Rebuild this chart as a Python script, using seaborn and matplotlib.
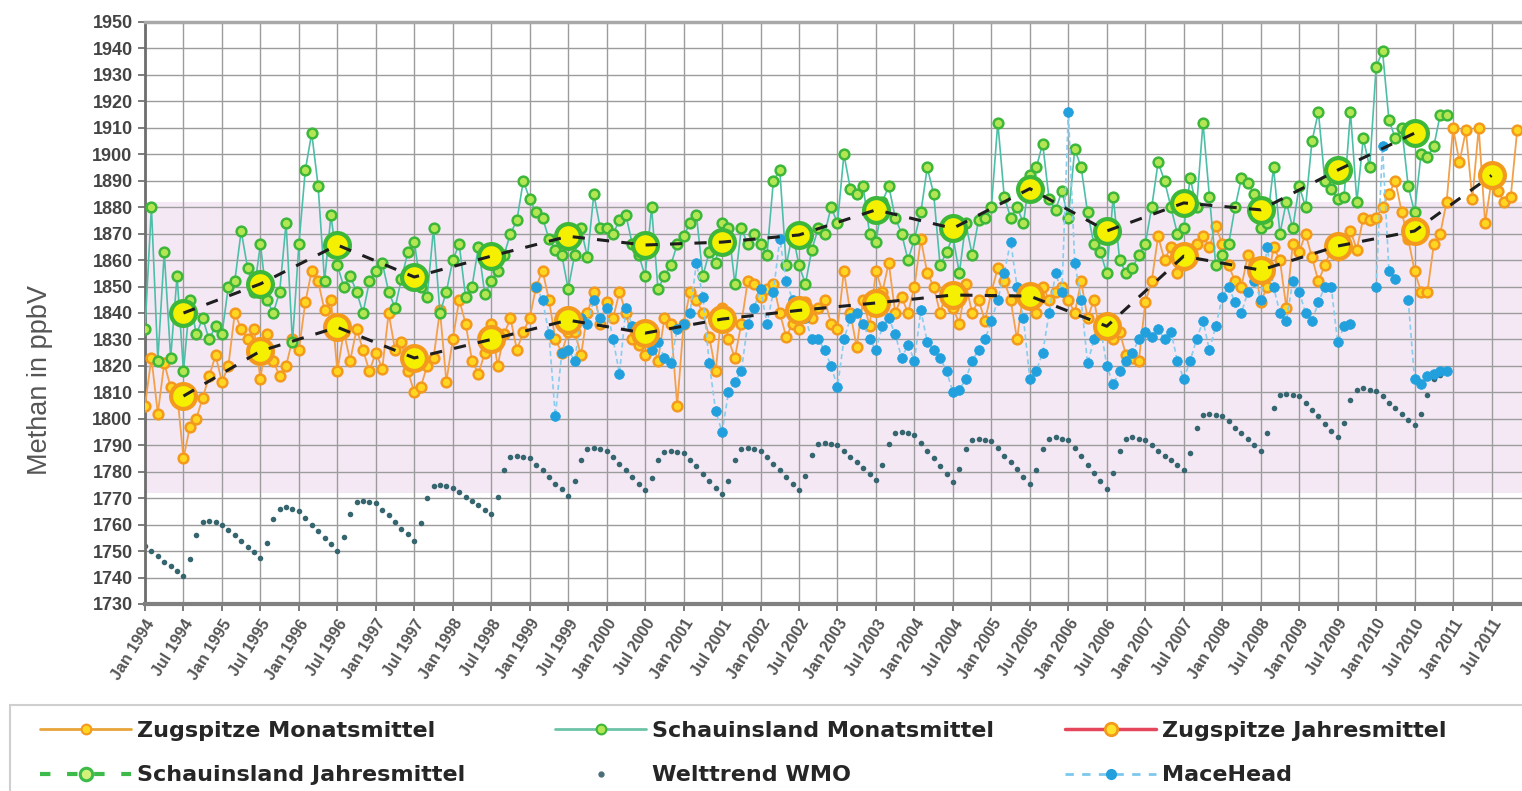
import numpy as np
import pandas as pd
import matplotlib
matplotlib.use("Agg")
import matplotlib.pyplot as plt
from matplotlib.lines import Line2D
from matplotlib.patches import Rectangle
import seaborn as sns

# ---------------------------------------------------------------- data
first_year = 1994
tick_years = list(range(1994, 2012))
tick_months = ["Jan", "Jul"]
tick_labels = [f"{mon} {yr}" for yr in tick_years for mon in tick_months]

# Zugspitze, monthly means (ppbV), Jan 1994 .. Nov 2011
zugspitze_monthly = [
    1805, 1823, 1802, 1821, 1812, 1810, 1785, 1797, 1800, 1808, 1816, 1824,  # 1994
    1814, 1820, 1840, 1834, 1830, 1834, 1815, 1832, 1822, 1816, 1820, 1830,  # 1995
    1826, 1844, 1856, 1852, 1841, 1845, 1818, 1833, 1822, 1834, 1826, 1818,  # 1996
    1825, 1819, 1840, 1826, 1829, 1818, 1810, 1812, 1820, 1823, 1841, 1814,  # 1997
    1830, 1845, 1836, 1822, 1817, 1825, 1836, 1820, 1832, 1838, 1826, 1833,  # 1998
    1838, 1850, 1856, 1845, 1830, 1825, 1833, 1833, 1824, 1840, 1848, 1836,  # 1999
    1844, 1838, 1848, 1840, 1830, 1828, 1824, 1830, 1822, 1838, 1836, 1805,  # 2000
    1836, 1848, 1845, 1840, 1831, 1818, 1842, 1830, 1823, 1836, 1852, 1851,  # 2001
    1846, 1849, 1851, 1840, 1831, 1836, 1834, 1844, 1838, 1842, 1845, 1836,  # 2002
    1834, 1856, 1840, 1827, 1845, 1835, 1856, 1848, 1859, 1840, 1846, 1840,  # 2003
    1850, 1868, 1855, 1850, 1840, 1848, 1842, 1836, 1851, 1840, 1845, 1837,  # 2004
    1848, 1857, 1852, 1845, 1830, 1848, 1844, 1840, 1850, 1845, 1848, 1850,  # 2005
    1845, 1840, 1852, 1838, 1845, 1832, 1836, 1830, 1833, 1824, 1823, 1822,  # 2006
    1844, 1852, 1869, 1860, 1865, 1855, 1858, 1862, 1866, 1869, 1865, 1873,  # 2007
    1866, 1858, 1852, 1850, 1862, 1859, 1844, 1850, 1865, 1860, 1842, 1866,  # 2008
    1863, 1870, 1861, 1852, 1858, 1864, 1862, 1868, 1871, 1864, 1876, 1875,  # 2009
    1876, 1880, 1885, 1890, 1878, 1868, 1856, 1848, 1848, 1866, 1870, 1882,  # 2010
    1910, 1897, 1909, 1883, 1910, 1874, 1890, 1886, 1882, 1884, 1909,        # 2011
]

# Schauinsland, monthly means (ppbV), Jan 1994 .. Dec 2010
schauinsland_monthly = [
    1834, 1880, 1822, 1863, 1823, 1854, 1818, 1845, 1832, 1838, 1830, 1835,  # 1994
    1832, 1850, 1852, 1871, 1857, 1848, 1866, 1845, 1840, 1848, 1874, 1829,  # 1995
    1866, 1894, 1908, 1888, 1852, 1877, 1858, 1850, 1854, 1848, 1840, 1852,  # 1996
    1856, 1859, 1848, 1842, 1853, 1863, 1867, 1850, 1846, 1872, 1840, 1848,  # 1997
    1860, 1866, 1846, 1850, 1865, 1847, 1852, 1856, 1862, 1870, 1875, 1890,  # 1998
    1883, 1878, 1876, 1868, 1864, 1862, 1849, 1862, 1872, 1861, 1885, 1872,  # 1999
    1872, 1870, 1875, 1877, 1866, 1862, 1854, 1880, 1849, 1854, 1858, 1866,  # 2000
    1869, 1874, 1877, 1854, 1863, 1859, 1874, 1872, 1851, 1872, 1866, 1870,  # 2001
    1866, 1862, 1890, 1894, 1858, 1870, 1858, 1851, 1864, 1872, 1870, 1880,  # 2002
    1874, 1900, 1887, 1885, 1888, 1870, 1867, 1882, 1888, 1876, 1870, 1860,  # 2003
    1868, 1878, 1895, 1885, 1858, 1863, 1869, 1855, 1874, 1862, 1875, 1876,  # 2004
    1880, 1912, 1884, 1876, 1880, 1874, 1892, 1895, 1904, 1883, 1879, 1886,  # 2005
    1876, 1902, 1895, 1878, 1866, 1863, 1855, 1884, 1860, 1855, 1857, 1862,  # 2006
    1866, 1880, 1897, 1890, 1880, 1870, 1872, 1891, 1880, 1912, 1884, 1858,  # 2007
    1862, 1866, 1880, 1891, 1889, 1885, 1872, 1874, 1895, 1870, 1882, 1872,  # 2008
    1888, 1880, 1905, 1916, 1890, 1887, 1883, 1884, 1916, 1882, 1906, 1895,  # 2009
    1933, 1939, 1913, 1906, 1910, 1888, 1878, 1900, 1899, 1903, 1915, 1915,  # 2010
]

# WMO global trend (ppbV), Jan 1994 .. Dec 2010
wmo_trend = [
    1752, 1750, 1748, 1746, 1744.5, 1742.5, 1740.5, 1747, 1756, 1761, 1761.5, 1761,              # 1994
    1760, 1758, 1756, 1754, 1751.5, 1749.5, 1747.5, 1753, 1762, 1766, 1766.5, 1766,              # 1995
    1765, 1762.5, 1760, 1757.5, 1755, 1752.5, 1750, 1755.5, 1764, 1768.5, 1769, 1768.5,          # 1996
    1768, 1765.5, 1763.5, 1761, 1758.5, 1756.5, 1754, 1760.5, 1770, 1774.5, 1775, 1774.5,        # 1997
    1774, 1772.5, 1770.5, 1769, 1767.5, 1765.5, 1764, 1770.5, 1780.5, 1785.5, 1786, 1785.5,      # 1998
    1785, 1782.5, 1780.5, 1778, 1775.5, 1773.5, 1771, 1776.5, 1784.5, 1788.5, 1789, 1788.5,      # 1999
    1788, 1785.5, 1783, 1780.5, 1778, 1775.5, 1773, 1777.5, 1784.5, 1787.5, 1788, 1787.5,        # 2000
    1787, 1784.5, 1782, 1779, 1776.5, 1774, 1771.5, 1776.5, 1784.5, 1788.5, 1789, 1788.5,        # 2001
    1788, 1785.5, 1783, 1780.5, 1778, 1775.5, 1773, 1778.5, 1786.5, 1790.5, 1791, 1790.5,        # 2002
    1790, 1788, 1785.5, 1783.5, 1781.5, 1779, 1777, 1782.5, 1790.5, 1794.5, 1795, 1794.5,        # 2003
    1794, 1791, 1788, 1785, 1782, 1779, 1776, 1781, 1788.5, 1792, 1792.5, 1792,                  # 2004
    1791.5, 1789, 1786, 1783.5, 1781, 1778, 1775.5, 1780.5, 1788.5, 1792.5, 1793, 1792.5,        # 2005
    1792, 1789, 1786, 1782.5, 1779.5, 1776.5, 1773.5, 1779.5, 1788, 1792.5, 1793, 1792.5,        # 2006
    1792, 1790, 1788, 1786, 1784.5, 1782.5, 1780.5, 1787, 1796.5, 1801.5, 1802, 1801.5,          # 2007
    1801, 1799, 1796.5, 1794.5, 1792.5, 1790, 1788, 1794.5, 1804, 1809, 1809.5, 1809,            # 2008
    1808.5, 1806, 1803.5, 1801, 1798, 1795.5, 1793, 1798.5, 1807, 1811, 1811.5, 1811,            # 2009
    1810.5, 1808.5, 1806, 1804, 1802, 1799.5, 1797.5, 1802, 1809, 1815, 1816.5, 1818,            # 2010
]

# Mace Head (ppbV), Jan 1999 .. Dec 2010, gaps as NaN
mace_head_start = 1999
nan = np.nan
mace_head = [
    nan, 1850, 1845, 1832, 1801, 1825, 1826, 1822, 1838, 1836, 1845, 1838,  # 1999
    1842, 1830, 1817, 1842, 1835, nan, 1830, 1826, 1829, 1823, 1821, 1834,  # 2000
    1836, 1840, 1859, 1846, 1821, 1803, 1795, 1810, 1814, 1818, 1836, 1842,  # 2001
    1849, 1836, 1848, 1868, 1852, 1845, nan, 1838, 1830, 1830, 1826, 1820,  # 2002
    1812, 1830, 1838, 1840, 1836, 1830, 1826, 1835, 1838, 1832, 1823, 1828,  # 2003
    1822, 1841, 1829, 1826, 1823, 1818, 1810, 1811, 1815, 1822, 1826, 1830,  # 2004
    1837, 1845, 1855, 1867, 1850, 1838, 1815, 1818, 1825, 1840, 1855, 1848,  # 2005
    1916, 1859, 1845, 1821, 1830, 1835, 1820, 1813, 1818, 1822, 1825, 1830,  # 2006
    1833, 1831, 1834, 1830, 1833, 1822, 1815, 1822, 1830, 1837, 1826, 1835,  # 2007
    1846, 1850, 1844, 1840, 1848, 1852, 1845, 1865, 1850, 1840, 1837, 1852,  # 2008
    1848, 1840, 1837, 1844, 1850, 1850, 1829, 1835, 1836, nan, nan, nan,     # 2009
    1850, 1903, 1856, 1853, nan, 1845, 1815, 1813, 1816, 1817, 1818, 1818,  # 2010
]

# annual means, plotted at mid-year
zugspitze_years = list(range(1994, 2012))
zugspitze_annual = [1808.6, 1825.6, 1834.6, 1823.0, 1830.0, 1837.3, 1832.4, 1837.7, 1841.0,
                    1843.8, 1846.8, 1846.4, 1835.0, 1861.5, 1856.2, 1865.3, 1871.0, 1892.0]
schauinsland_years = list(range(1994, 2011))
schauinsland_annual = [1840.0, 1851.0, 1865.7, 1853.6, 1861.5, 1869.0, 1865.7, 1866.8, 1869.5,
                       1879.0, 1872.0, 1887.0, 1871.0, 1881.6, 1879.0, 1894.0, 1908.0]


def monthly_frame(values, start_year=first_year):
    offset = (start_year - first_year) * 12
    df = pd.DataFrame({"monat": np.arange(len(values)) + offset, "ppbV": values})
    df["segment"] = df["ppbV"].isna().cumsum()
    return df.dropna()


def annual_frame(years, values):
    return pd.DataFrame({"monat": [(y - first_year) * 12 + 6 for y in years], "ppbV": values})


df_zug = monthly_frame(zugspitze_monthly)
df_schau = monthly_frame(schauinsland_monthly)
df_wmo = monthly_frame(wmo_trend)
df_mace = monthly_frame(mace_head, mace_head_start)
df_zug_y = annual_frame(zugspitze_years, zugspitze_annual)
df_schau_y = annual_frame(schauinsland_years, schauinsland_annual)

# ---------------------------------------------------------------- style
sns.set_theme(style="white")
plt.rcParams["font.family"] = ["Liberation Sans", "DejaVu Sans"]

C_ZUG_LINE, C_ZUG_FACE, C_ZUG_EDGE = "#F2A04A", "#FFD620", "#F39A1E"
C_SCH_LINE, C_SCH_FACE, C_SCH_EDGE = "#4DBFA8", "#B4E553", "#3DB73A"
C_WMO = "#35656F"
C_MACE_LINE, C_MACE = "#86CDEE", "#22A0DD"
C_ANNUAL_LINE = "#1E1E1E"
C_GRID = "#9C9C9C"

W, H = 1522, 791
fig = plt.figure(figsize=(W / 100, H / 100), dpi=100)
fig.patch.set_facecolor("white")
ax = fig.add_axes([145 / W, (H - 604) / H, (1530 - 145) / W, (604 - 22) / H])
ax.set_facecolor("white")

# tinted band behind the data
ax.axhspan(1772, 1882, color="#F4E8F5", lw=0, zorder=0.1)

# ---------------------------------------------------------------- marks
sns.scatterplot(data=df_wmo, x="monat", y="ppbV", ax=ax, color=C_WMO, s=16,
                linewidth=0, zorder=2, legend=False)

sns.lineplot(data=df_zug, x="monat", y="ppbV", ax=ax, units="segment", estimator=None,
             color=C_ZUG_LINE, lw=1.3, marker="o", markersize=7,
             markerfacecolor=C_ZUG_FACE, markeredgecolor=C_ZUG_EDGE, markeredgewidth=1.8,
             zorder=3, legend=False)

sns.lineplot(data=df_schau, x="monat", y="ppbV", ax=ax, units="segment", estimator=None,
             color=C_SCH_LINE, lw=1.2, marker="o", markersize=7,
             markerfacecolor=C_SCH_FACE, markeredgecolor=C_SCH_EDGE, markeredgewidth=1.8,
             zorder=4, legend=False)

sns.lineplot(data=df_mace, x="monat", y="ppbV", ax=ax, units="segment", estimator=None,
             color=C_MACE_LINE, lw=1.2, linestyle=(0, (3, 2)), marker="o", markersize=7,
             markerfacecolor=C_MACE, markeredgecolor=C_MACE, markeredgewidth=0.5,
             zorder=5, legend=False)

for df_y, edge in ((df_zug_y, C_ZUG_EDGE), (df_schau_y, C_SCH_EDGE)):
    sns.scatterplot(data=df_y, x="monat", y="ppbV", ax=ax, s=320, color="#F4F000",
                    edgecolor=edge, linewidth=3, zorder=6, legend=False)
    sns.lineplot(data=df_y, x="monat", y="ppbV", ax=ax, estimator=None, color=C_ANNUAL_LINE,
                 lw=2.2, linestyle=(0, (4, 4)), zorder=7, legend=False)

# ---------------------------------------------------------------- axes
ax.set_xlim(0, 216)
ax.set_ylim(1730, 1950)
ax.set_xticks(np.arange(0, 6 * len(tick_labels), 6))
ax.set_xticklabels(tick_labels, rotation=58, ha="right", va="top", rotation_mode="anchor",
                   fontsize=11.5, fontweight="bold", color="#555555")
ax.set_yticks(np.arange(1730, 1951, 10))
ax.set_yticklabels([str(v) for v in range(1730, 1951, 10)], fontsize=13,
                   fontweight="bold", color="#444444")
ax.tick_params(axis="both", which="major", direction="out", length=5, width=1.2,
               color="#666666", pad=4, left=True, bottom=True)
ax.set_xlabel("")
ax.set_ylabel("")

ax.grid(True, color=C_GRID, lw=1.0)
ax.set_axisbelow(True)
for name, sp in ax.spines.items():
    sp.set_visible(True)
ax.spines["left"].set_color("#6E6E6E")
ax.spines["left"].set_linewidth(2)
ax.spines["bottom"].set_color("#808080")
ax.spines["bottom"].set_linewidth(3)
ax.spines["top"].set_color("#A8A8A8")
ax.spines["top"].set_linewidth(2.5)
ax.spines["right"].set_visible(False)

fig.text(40 / W, 1 - 380 / H, "Methan in ppbV", rotation=90, ha="center", va="center",
         fontsize=19.5, color="#555555")

# ---------------------------------------------------------------- legend
fig.patches.append(Rectangle((10 / W, -0.05), 1.0, 0.05 + (H - 705) / H,
                             transform=fig.transFigure, facecolor="white",
                             edgecolor="#CFCFCF", lw=1.5, zorder=0))

h_zug_m = Line2D([], [], color="#E8A43A", lw=2, marker="o", ms=7,
                 mfc=C_ZUG_FACE, mec=C_ZUG_EDGE, mew=1.5)
h_sch_m = Line2D([], [], color="#6CC3A8", lw=2, marker="o", ms=7,
                 mfc=C_SCH_FACE, mec=C_SCH_EDGE, mew=1.5)
h_zug_y = Line2D([], [], color="#E4465C", lw=2.5, marker="o", ms=9,
                 mfc="#FFE22A", mec=C_ZUG_EDGE, mew=2)
h_sch_y = Line2D([], [], color="#3DBB4A", lw=3, ls=(0, (2.5, 4)), marker="o", ms=9,
                 mfc="#D4F27A", mec="#3DBB4A", mew=2.2)
h_wmo = Line2D([], [], ls="none", marker="o", ms=3.5, color="#4A6E78")
h_mace = Line2D([], [], color="#7CC8EC", lw=2, ls=(0, (3, 3)), marker="o", ms=7,
                mfc=C_MACE, mec=C_MACE)

columns = [
    (40, [h_zug_m, h_sch_y], ["Zugspitze Monatsmittel", "Schauinsland Jahresmittel"]),
    (555, [h_sch_m, h_wmo], ["Schauinsland Monatsmittel", "Welttrend WMO"]),
    (1065, [h_zug_y, h_mace], ["Zugspitze Jahresmittel", "MaceHead"]),
]
for x0, handles, labels in columns:
    fig.legend(handles=handles, labels=labels, loc="upper left",
               bbox_to_anchor=(x0 / W, 1 - 721 / H), frameon=False, borderpad=0,
               borderaxespad=0, handlelength=4.1, handletextpad=0.25, labelspacing=1.1,
               numpoints=1, prop={"family": "DejaVu Sans", "weight": "bold", "size": 16})

fig.savefig("out.png", dpi=100, facecolor="white")
